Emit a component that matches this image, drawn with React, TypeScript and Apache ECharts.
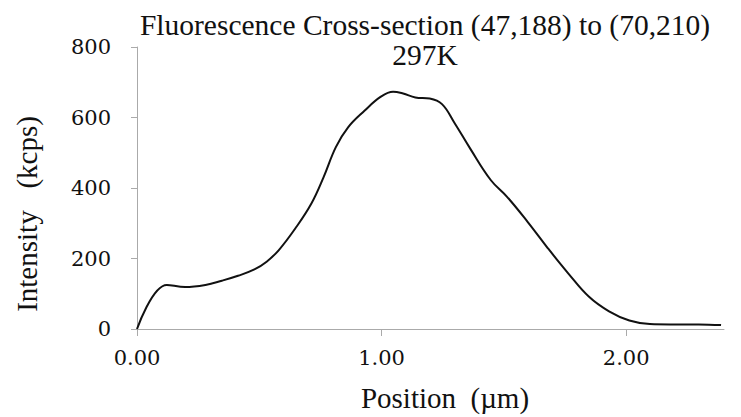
import React, { useEffect, useRef } from "react";
import * as echarts from "echarts";

const positions = [0, 0.122, 0.197, 0.28, 0.347, 0.413, 0.48, 0.53, 0.58, 0.647, 0.713, 0.763, 0.813, 0.863, 0.93, 0.997, 1.047, 1.088, 1.138, 1.197, 1.247, 1.297, 1.363, 1.447, 1.513, 1.597, 1.68, 1.763, 1.847, 1.93, 2.013, 2.097, 2.18, 2.297, 2.388];
const intensity = [0, 125, 119, 125, 137, 151, 169, 191, 224, 285, 356, 431, 516, 572, 619, 659, 673, 668, 657, 654, 638, 586, 511, 422, 375, 304, 229, 158, 92, 50, 24, 14, 13, 13, 11];
const xTicks = [0, 1, 2];
const titleLines = ["Fluorescence Cross-section (47,188) to (70,210)", "297K"];
const xName = "Position  (\u00b5m)";
const yName = "Intensity   (kcps)";

const FONT = "'Liberation Serif', serif";
const NUMFONT = "'DejaVu Serif', serif";

export default function App() {
  const ref = useRef<HTMLDivElement>(null);
  useEffect(() => {
    if (!ref.current) return;
    const chart = echarts.init(ref.current, null, { renderer: "svg" });
    chart.setOption({
      animation: false,
      title: {
        text: titleLines.join("\n"),
        left: 420,
        textAlign: "center",
        top: 5,
        textStyle: { fontFamily: FONT, fontSize: 29.5, fontWeight: "normal", color: "#111", lineHeight: 30 },
      },
      graphic: [
        {
          type: "text",
          x: 27,
          y: 214,
          rotation: Math.PI / 2,
          style: {
            text: yName,
            fontFamily: FONT,
            fontSize: 29,
            fill: "#111",
            textAlign: "center",
            textVerticalAlign: "middle",
          },
        },
        {
          type: "text",
          x: 445,
          y: 398,
          style: {
            text: xName,
            fontFamily: FONT,
            fontSize: 29,
            fill: "#111",
            textAlign: "center",
            textVerticalAlign: "middle",
          },
        },
      ],
      grid: { left: 137, right: 17, top: 47, bottom: 88 },
      xAxis: {
        type: "value",
        min: 0,
        max: 2.4,
        interval: 1,
        axisLine: { show: true, lineStyle: { color: "#aaa", width: 1 } },
        axisTick: { show: true, length: 7, lineStyle: { color: "#aaa" }, customValues: xTicks },
        axisLabel: {
          customValues: xTicks,
          formatter: (v: number) => v.toFixed(2),
          fontFamily: NUMFONT,
          fontSize: 21,
          color: "#111",
          margin: 18,
        },
        splitLine: { show: false },
      },
      yAxis: {
        type: "value",
        min: 0,
        max: 800,
        interval: 200,
        axisLine: { show: true, lineStyle: { color: "#aaa", width: 1 } },
        axisTick: { show: true, length: 6, lineStyle: { color: "#aaa" } },
        axisLabel: { fontFamily: NUMFONT, fontSize: 21, color: "#111", margin: 26 },
        splitLine: { show: false },
      },
      series: [
        {
          type: "line",
          data: positions.map((p, i) => [p, intensity[i]]),
          smooth: 0.4,
          showSymbol: false,
          lineStyle: { color: "#111", width: 2 },
        },
      ],
    });
    return () => chart.dispose();
  }, []);
  return <div ref={ref} style={{ width: 741, height: 417, position: "absolute", left: 0, top: 0 }} />;
}
